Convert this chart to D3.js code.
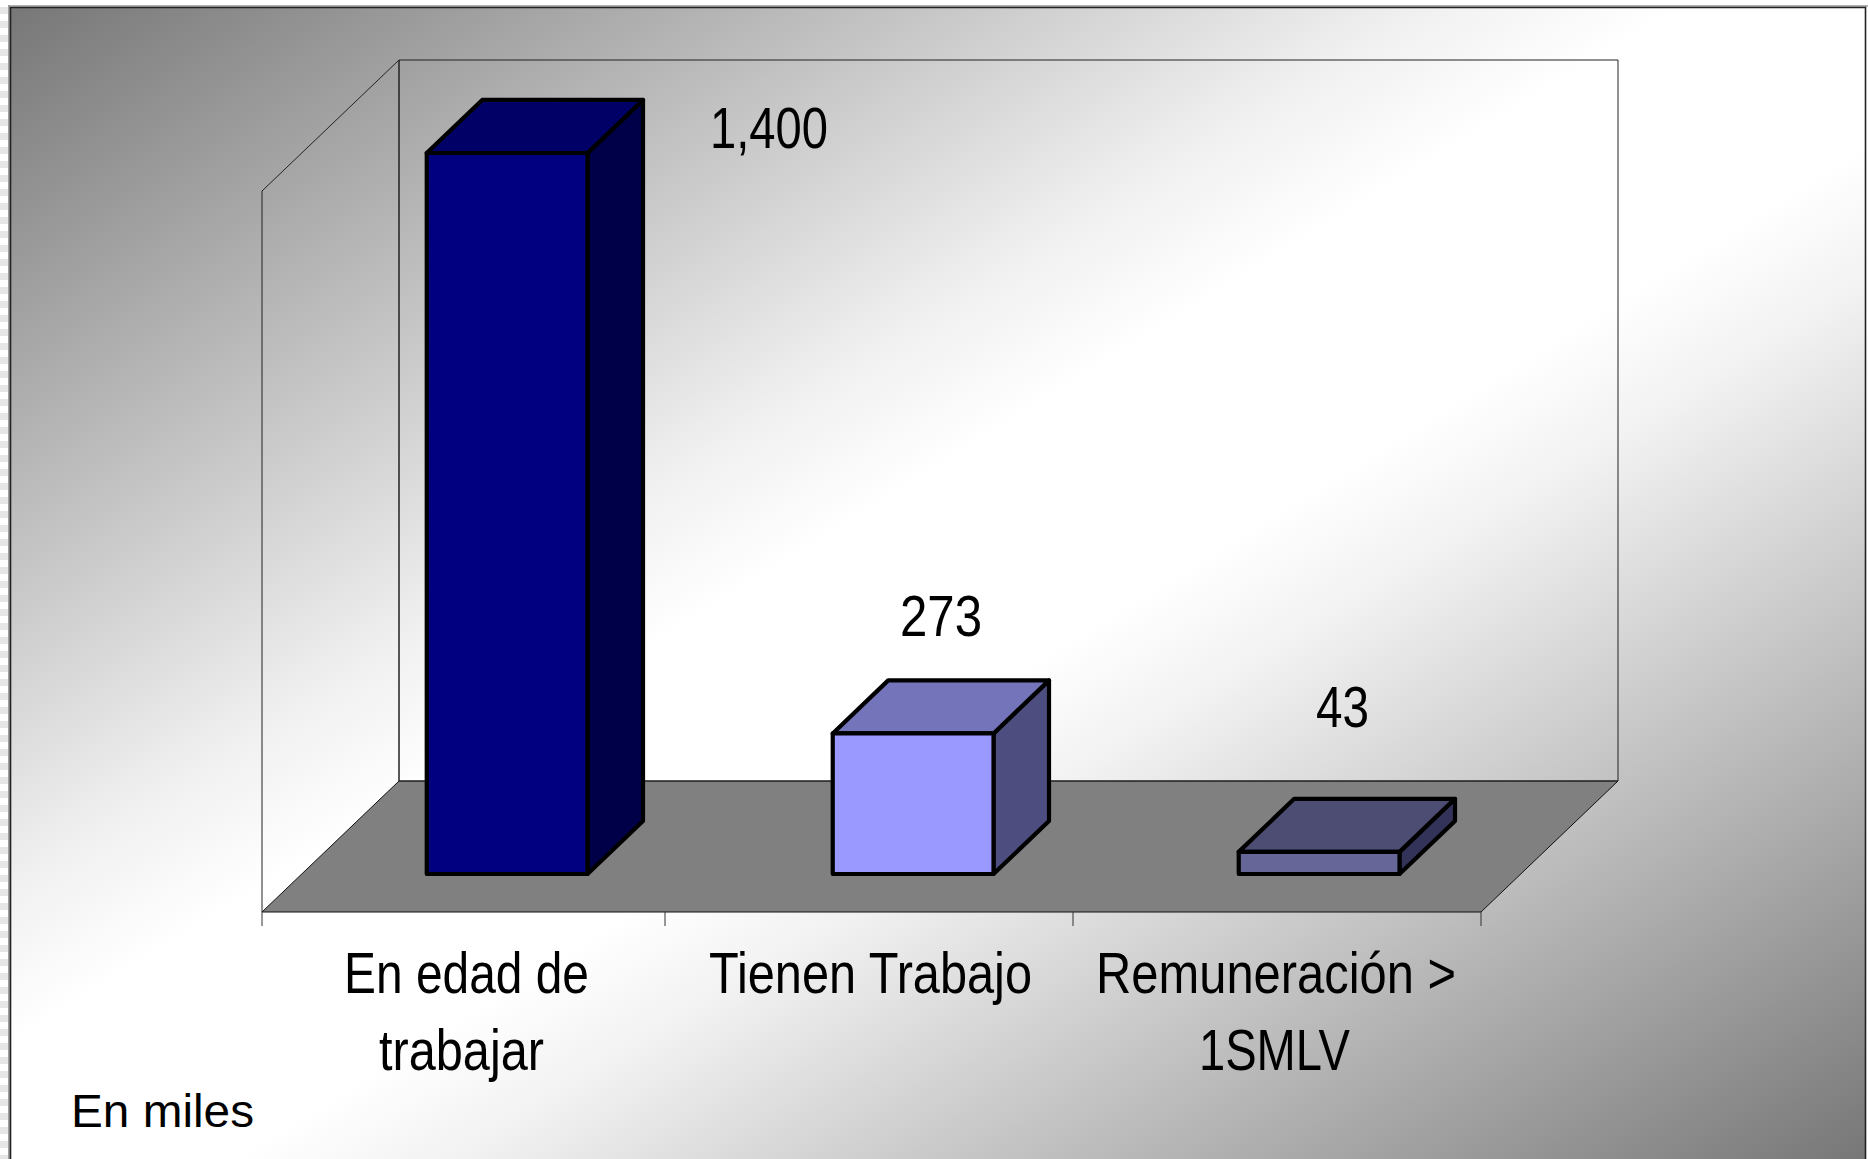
<!DOCTYPE html>
<html><head><meta charset="utf-8">
<script src="https://cdn.jsdelivr.net/npm/d3@7"></script>
<style>html,body{margin:0;padding:0;background:#fff;overflow:hidden}svg{display:block}text{font-family:"Liberation Sans",Arial,sans-serif;fill:#000}</style>
</head><body><svg id="c" width="1868" height="1159"></svg>
<script>
const categories = ["En edad de trabajar","Tienen Trabajo","Remuneración > 1SMLV"];
const values = [1400,273,43];
const valueLabels = ["1,400","273","43"];
const categoryLines = [["En edad de","trabajar"],["Tienen Trabajo"],["Remuneración >","1SMLV"]];
const frontColors = ["#000080","#9999ff","#666699"];
const topColors = ["#000066","#7474bb","#4d4d73"];
const sideColors = ["#000048","#4d4d80","#33335a"];
const unitNote = "En miles";

const W=1868,H=1159;
const svg=d3.select("#c");
const plot={x0:262,x1:1481,yFloor:912,dx:137,dy:131,barD0:0.29,barD1:0.695};
const y=d3.scaleLinear().domain([0,1400]).range([plot.yFloor,191]);
const x=d3.scaleBand().domain(categories).range([264.4,1482.4]).paddingInner(0.604).paddingOuter(0.302);
const tickScale=d3.scaleLinear().domain([0,1,2,3]).range([plot.x0,665,1073,plot.x1]);
const P=(px,v,d)=>[px+d*plot.dx,y(v)-d*plot.dy];
const poly=pts=>pts.map(p=>p.join(",")).join(" ");

const defs=svg.append("defs");
const g=defs.append("linearGradient").attr("id","bg").attr("x1",0).attr("y1",0).attr("x2",1).attr("y2",1);
[[0,"#777777"],[0.38,"#f0f0f0"],[0.45,"#ffffff"],[0.56,"#ffffff"],[0.62,"#f2f2f2"],[1,"#777777"]].forEach(s=>g.append("stop").attr("offset",s[0]).attr("stop-color",s[1]));
const pt=defs.append("pattern").attr("id","st").attr("width",8).attr("height",14).attr("patternUnits","userSpaceOnUse");
pt.append("rect").attr("width",8).attr("height",14).attr("fill","#fff");
pt.append("rect").attr("y",7).attr("width",8).attr("height",7).attr("fill","#e6e6e6");

svg.append("rect").attr("width",8).attr("height",H).attr("fill","url(#st)");
svg.append("rect").attr("x",8).attr("y",5).attr("width",W-8).attr("height",2).attr("fill","#b0b0b0");
svg.append("rect").attr("x",8).attr("y",5).attr("width",2).attr("height",H-5).attr("fill","#a0a0a0");
svg.append("rect").attr("x",10).attr("y",7).attr("width",1856).attr("height",H-7).attr("fill","url(#bg)");
svg.append("path").attr("d",`M10.5,${H}V7.5H1865.5V${H}`).attr("fill","none").attr("stroke","#222").attr("stroke-width",1.6);

const A=P(plot.x0,0,0),B=P(plot.x1,0,0),C=P(plot.x1,0,1),D=P(plot.x0,0,1);
const At=P(plot.x0,1400,0),Ct=P(plot.x1,1400,1),Dt=P(plot.x0,1400,1);
svg.append("polygon").attr("points",poly([A,B,C,D])).attr("fill","#808080").attr("stroke","#111").attr("stroke-width",1);
svg.append("polygon").attr("points",poly([D,Dt,Ct,C])).attr("fill","none").attr("stroke","#222").attr("stroke-width",1);
svg.append("polyline").attr("points",poly([A,At,Dt,D])).attr("fill","none").attr("stroke","#222").attr("stroke-width",1);

svg.selectAll(".tick").data(d3.range(4)).join("line").attr("class","tick")
 .attr("x1",d=>tickScale(d)).attr("x2",d=>tickScale(d)).attr("y1",y(0)).attr("y2",y(0)+14).attr("stroke","#333").attr("stroke-width",1);

categories.forEach((c,i)=>{
  const l=x(c),r=l+x.bandwidth(),v=values[i],d0=plot.barD0,d1=plot.barD1;
  const b=svg.append("g").attr("stroke","#000").attr("stroke-width",4.2).attr("stroke-linejoin","round");
  b.append("polygon").attr("points",poly([P(r,0,d0),P(r,0,d1),P(r,v,d1),P(r,v,d0)])).attr("fill",sideColors[i]);
  b.append("polygon").attr("points",poly([P(l,v,d0),P(r,v,d0),P(r,v,d1),P(l,v,d1)])).attr("fill",topColors[i]);
  b.append("polygon").attr("points",poly([P(l,0,d0),P(r,0,d0),P(r,v,d0),P(l,v,d0)])).attr("fill",frontColors[i]);
});

function fit(str,x0,x1,base,size){
  svg.append("text").attr("x",x0).attr("y",base).attr("font-size",size)
    .attr("textLength",x1-x0).attr("lengthAdjust","spacingAndGlyphs").text(str);
}
const labelBoxes=[[710,828,148],[900,982,636],[1316,1369,727]];
valueLabels.forEach((t,i)=>fit(t,labelBoxes[i][0],labelBoxes[i][1],labelBoxes[i][2],57));
const catBoxes=[[[344,589,993],[379,544,1070]],[[709,1032,993]],[[1096,1456,993],[1199,1350,1070]]];
categoryLines.forEach((ls,i)=>ls.forEach((t,j)=>fit(t,catBoxes[i][j][0],catBoxes[i][j][1],catBoxes[i][j][2],57)));
fit(unitNote,71,254,1127,46);
</script></body></html>
